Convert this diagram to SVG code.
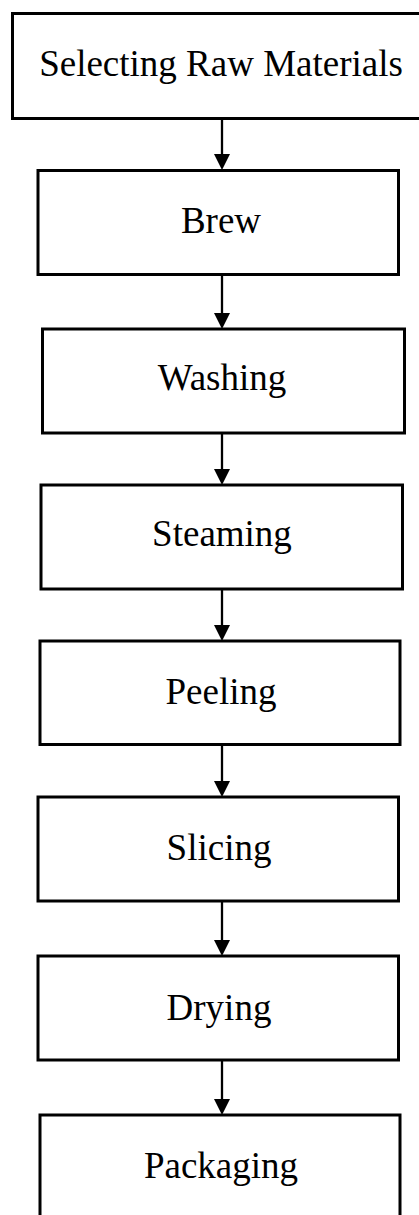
<svg xmlns="http://www.w3.org/2000/svg" width="419" height="1215" viewBox="0 0 419 1215">
<defs>
<style>
.box{fill:#fff;stroke:#000;stroke-width:3}
.lbl{font-family:"Liberation Serif","Times New Roman",serif;font-size:37px;fill:#000;text-anchor:middle}
.con{stroke:#000;stroke-width:2.3;fill:none}
</style>
</defs>
<rect width="419" height="1215" fill="#fff"/>
<g id="connectors">
<line class="con" x1="222" y1="118" x2="222" y2="154"/><path d="M214,154 L230,154 L222,170 Z"/>
<line class="con" x1="222" y1="274" x2="222" y2="313"/><path d="M214,313 L230,313 L222,329 Z"/>
<line class="con" x1="222" y1="433" x2="222" y2="469"/><path d="M214,469 L230,469 L222,485 Z"/>
<line class="con" x1="222" y1="589" x2="222" y2="625"/><path d="M214,625 L230,625 L222,641 Z"/>
<line class="con" x1="222" y1="744" x2="222" y2="781"/><path d="M214,781 L230,781 L222,797 Z"/>
<line class="con" x1="222" y1="901" x2="222" y2="940"/><path d="M214,940 L230,940 L222,956 Z"/>
<line class="con" x1="222" y1="1060" x2="222" y2="1099"/><path d="M214,1099 L230,1099 L222,1115 Z"/>
</g>
<g id="n1"><rect class="box" x="12.5" y="13.5" width="420" height="105"/><text class="lbl" x="221" y="76">Selecting Raw Materials</text></g>
<g id="n2"><rect class="box" x="38" y="170.5" width="360.5" height="104"/><text class="lbl" x="221" y="233">Brew</text></g>
<g id="n3"><rect class="box" x="42.5" y="329" width="362" height="104"/><text class="lbl" x="222" y="390">Washing</text></g>
<g id="n4"><rect class="box" x="41" y="485" width="361.5" height="104"/><text class="lbl" x="222" y="546">Steaming</text></g>
<g id="n5"><rect class="box" x="40" y="641" width="360" height="103.5"/><text class="lbl" x="221" y="704">Peeling</text></g>
<g id="n6"><rect class="box" x="38" y="797" width="360.5" height="104"/><text class="lbl" x="219" y="860">Slicing</text></g>
<g id="n7"><rect class="box" x="38" y="956" width="360.5" height="104"/><text class="lbl" x="219" y="1020">Drying</text></g>
<g id="n8"><rect class="box" x="40" y="1115" width="360" height="120"/><text class="lbl" x="221" y="1178">Packaging</text></g>
</svg>
